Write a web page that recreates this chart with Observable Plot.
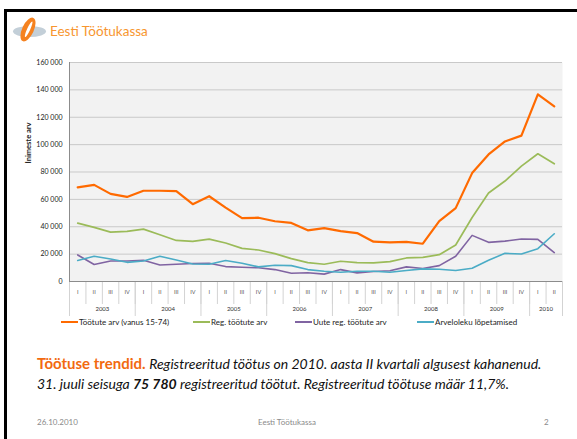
<!DOCTYPE html>
<html>
<head>
<meta charset="utf-8">
<script src="https://cdn.jsdelivr.net/npm/d3@7"></script>
<script src="https://cdn.jsdelivr.net/npm/@observablehq/plot@0.6"></script>
<style>
  html, body { margin: 0; padding: 0; background: #fff; }
  #slide { position: relative; width: 577px; height: 439px; overflow: hidden; font-family: Lato, "Open Sans", sans-serif; }
  .bt { position: absolute; left: 4px; top: 9px; width: 573px; height: 2.5px; background: #000; }
  .bl { position: absolute; left: 4px; top: 9px; width: 2.5px; height: 430px; background: #000; }
  #logo { position: absolute; left: 10px; top: 14px; }
  #brand { position: absolute; left: 50px; top: 23px; font-size: 13.5px; color: #F7962F; white-space: nowrap; }
  #chart { position: absolute; left: 0; top: 50px; }
  #legend { position: absolute; left: 0; top: 317px; width: 577px; height: 12px; font-size: 8px; color: #222; }
  .item { position: absolute; top: 0; white-space: nowrap; display: flex; align-items: center; }
  .swatch { display: inline-block; width: 17px; height: 2px; margin-right: 1px; }
  #caption { position: absolute; left: 37px; top: 353px; font-size: 14px; line-height: 20px; white-space: nowrap; color: #111; }
  #caption .head { color: #F26A10; font-weight: bold; font-style: normal; font-size: 15px; }
  #caption i b { font-weight: bold; }
  .foot { position: absolute; top: 417px; font-size: 8px; color: #8a8a8a; white-space: nowrap; }
</style>
</head>
<body>
<div id="slide">
  <div class="bt"></div>
  <div class="bl"></div>
  <svg id="logo" width="40" height="34" viewBox="0 0 40 34">
    <ellipse cx="19.5" cy="17.5" rx="16.5" ry="5.5" fill="#C3CFD8"/>
    <g transform="translate(18,15.5) rotate(25)">
      <ellipse cx="0" cy="0" rx="5.8" ry="12.8" fill="#F58220"/>
      <ellipse cx="0.5" cy="-0.5" rx="1.5" ry="8.5" fill="#FFFFFF"/>
    </g>
  </svg>
  <div id="brand">Eesti Töötukassa</div>
  <div id="chart"></div>
  <div id="legend"></div>
  <div id="caption"><span class="head">Töötuse trendid.</span> <i>Registreeritud töötus on 2010. aasta II kvartali algusest kahanenud.</i><br><i>31. juuli seisuga <b>75 780</b> registreeritud töötut. Registreeritud töötuse määr 11,7%.</i></div>
  <div class="foot" style="left:37px">26.10.2010</div>
  <div class="foot" style="left:258px">Eesti Töötukassa</div>
  <div class="foot" style="left:544px">2</div>
</div>
<script>
// ---- data ----
const years = ["2003", "2004", "2005", "2006", "2007", "2008", "2009", "2010"];
const quarters = ["I", "II", "III", "IV"];
const seriesNames = ["Töötute arv (vanus 15-74)", "Reg. töötute arv", "Uute reg. töötute arv", "Arveloleku lõpetamised"];
const seriesColors = ["#FF6A00", "#9BBB59", "#8064A2", "#4BACC6"];
const yTicks = [0, 20000, 40000, 60000, 80000, 100000, 120000, 140000, 160000];
const yLabel = "Inimeste arv";

const tootud = [68800, 70600, 64000, 61800, 66300, 66300, 66000, 56500, 62300, 54000, 46300, 46600, 44000, 42800, 37400, 39000, 36800, 35400, 29100, 28600, 29000, 27600, 44100, 53600, 79200, 92800, 102300, 106600, 136700, 128000];
const regTootud = [42600, 39500, 36100, 36600, 38300, 34200, 30000, 29300, 31000, 28100, 24200, 23000, 20400, 16700, 13800, 12600, 14800, 13800, 13600, 14500, 17200, 17600, 19600, 26700, 46800, 64700, 73400, 84300, 93300, 86000];
const uuteReg = [19400, 12400, 15000, 15000, 15500, 12100, 12600, 13100, 13300, 10900, 10400, 10000, 8700, 6000, 6400, 5400, 8700, 6300, 7300, 7800, 10700, 9500, 11600, 18400, 33700, 28600, 29500, 31000, 30800, 21100];
const arvelolek = [15300, 18400, 16500, 14000, 15000, 18400, 15700, 12800, 12600, 15300, 13300, 10700, 11900, 11600, 8700, 7500, 6800, 7500, 7500, 6800, 8000, 9200, 9000, 8000, 9700, 15500, 20600, 20100, 24000, 34900];

const seriesValues = [tootud, regTootud, uuteReg, arvelolek];
const strokeWidths = [2.2, 1.7, 1.6, 1.6];

// ---- categories ----
const periods = years.flatMap(y => quarters.map(q => ({year: y, q}))).slice(0, tootud.length);
const n = periods.length;
const centers = periods.map((p, i) => i + 0.5);
const boundaries = d3.range(n + 1);
const yearStarts = [];
const yearCenters = [];
years.forEach(y => {
  const idx = periods.map((p, i) => p.year === y ? i : -1).filter(i => i >= 0);
  yearStarts.push(idx[0]);
  yearCenters.push({y, c: (idx[0] + idx[idx.length - 1] + 1) / 2});
});
yearStarts.push(n);

const fmt = d => d3.format(",")(d).replace(/,/g, " ");

const chart = Plot.plot({
  width: 577,
  height: 280,
  marginLeft: 69,
  marginRight: 15,
  marginTop: 12,
  marginBottom: 49,
  style: {fontFamily: "Lato, 'Open Sans', sans-serif", fontSize: "7px", color: "#222", background: "transparent", overflow: "visible"},
  x: {domain: [0, n], axis: null},
  y: {domain: [0, 160000], axis: null},
  marks: [
    Plot.frame({fill: "#F2F2F2", stroke: null}),
    Plot.gridY(yTicks.filter(d => d > 0), {stroke: "#C9C9C9", strokeOpacity: 1, strokeWidth: 1}),
    Plot.axisY(yTicks, {tickSize: 0, tickPadding: 7, tickFormat: fmt, label: null, fontSize: 7}),
    Plot.axisX(boundaries, {tickSize: 23, stroke: "#D3D3D3", strokeOpacity: 1, tickFormat: () => "", label: null}),
    Plot.axisX(yearStarts, {tickSize: 35, stroke: "#D3D3D3", strokeOpacity: 1, tickFormat: () => "", label: null}),
    Plot.axisX(centers, {tickSize: 0, tickPadding: 9, tickFormat: d => periods[Math.floor(d)].q, label: null, fontSize: 5.5, fill: "#555"}),
    Plot.axisX(yearCenters.map(d => d.c), {tickSize: 0, tickPadding: 25, tickFormat: d => yearCenters.find(e => e.c === d).y, label: null, fontSize: 6, fill: "#333"}),
    Plot.ruleX([0], {stroke: "#8C8C8C"}),
    Plot.ruleY([0], {stroke: "#8C8C8C"}),
    ...seriesValues.map((vals, s) => Plot.line(vals, {
      x: (d, i) => centers[i],
      y: d => d,
      stroke: seriesColors[s],
      strokeWidth: strokeWidths[s],
      strokeLinejoin: "round"
    })),
    Plot.text([yLabel], {frameAnchor: "left", textAnchor: "middle", rotate: -90, dx: -41, dy: -29, fontSize: 7.5, fontWeight: "bold", fill: "#222"})
  ]
});
document.getElementById("chart").appendChild(chart);

// ---- legend ----
const legendLefts = [61, 193, 295, 417];
const legend = document.getElementById("legend");
seriesNames.forEach((name, s) => {
  const item = document.createElement("div");
  item.className = "item";
  item.style.left = legendLefts[s] + "px";
  const sw = document.createElement("span");
  sw.className = "swatch";
  sw.style.background = seriesColors[s];
  const t = document.createElement("span");
  t.textContent = name;
  item.appendChild(sw);
  item.appendChild(t);
  legend.appendChild(item);
});
</script>
</body>
</html>
